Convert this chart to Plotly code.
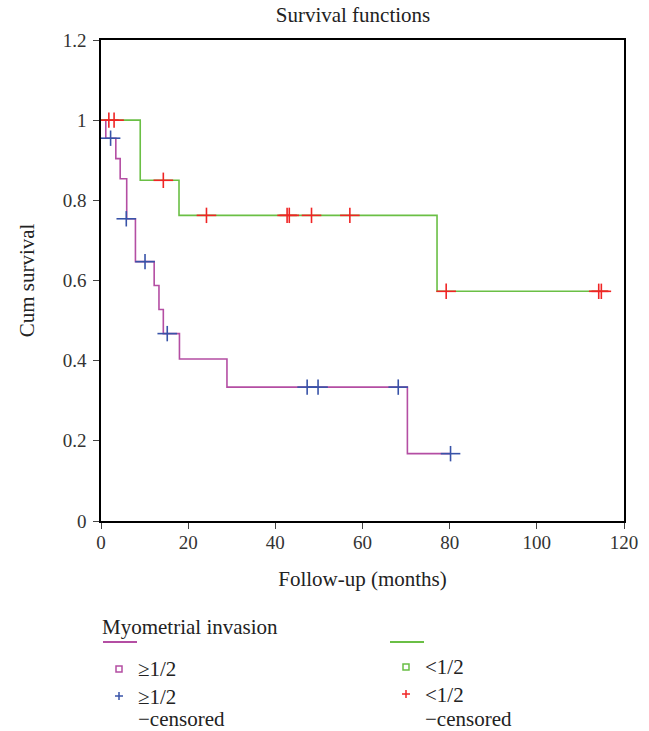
import plotly.graph_objects as go

# ---- data ----
ge_times = [0, 1.1, 3.4, 4.4, 5.9, 7.9, 12.2, 13.3, 14.3, 18.0, 28.9, 70.3, 80.2]
ge_surv = [1.0, 0.955, 0.904, 0.854, 0.754, 0.647, 0.5875, 0.5275, 0.4675, 0.404, 0.334, 0.168, 0.168]
ge_cens_t = [2.2, 5.8, 10.1, 15.2, 47.3, 49.8, 68.2, 80.2]
ge_cens_s = [0.955, 0.754, 0.647, 0.4675, 0.334, 0.334, 0.334, 0.168]

lt_times = [0, 9.0, 17.9, 77.1, 116.3]
lt_surv = [1.0, 0.85, 0.7625, 0.573, 0.573]
lt_cens_t = [1.8, 3.0, 14.3, 24.2, 42.7, 43.2, 48.3, 57.1, 79.2, 114.2, 114.8]
lt_cens_s = [1.0, 1.0, 0.85, 0.7625, 0.7625, 0.7625, 0.7625, 0.7625, 0.573, 0.573, 0.573]

x_ticks = [0, 20, 40, 60, 80, 100, 120]
y_ticks = [0, 0.2, 0.4, 0.6, 0.8, 1.0, 1.2]
y_tick_text = ["0", "0.2", "0.4", "0.6", "0.8", "1", "1.2"]

legend_title = "Myometrial invasion"
group_labels = ["≥1/2", "<1/2"]
censored_suffix = "−censored"

PURPLE = "#b44ea3"
GREEN = "#6abf45"
BLUE = "#3853a8"
RED = "#f02424"
FONT = "Liberation Serif"
TXT = "#222"

# plot area in pixels (for placing the legend block in the bottom margin)
L, R, T, B = 101, 624, 40, 521
W, H = R - L, B - T


def px(xp):
    return (xp - L) / W


def py(yp):
    return (B - yp) / H


fig = go.Figure()

fig.add_trace(go.Scatter(x=ge_times, y=ge_surv, mode="lines", name=group_labels[0],
                         line=dict(color=PURPLE, width=1.6, shape="hv"), showlegend=False, hoverinfo="skip"))
fig.add_trace(go.Scatter(x=lt_times, y=lt_surv, mode="lines", name=group_labels[1],
                         line=dict(color=GREEN, width=1.6, shape="hv"), showlegend=False, hoverinfo="skip"))

# censor marks: a wide horizontal bar plus a shorter vertical bar
for t, s, col, lab in [(ge_cens_t, ge_cens_s, BLUE, group_labels[0]), (lt_cens_t, lt_cens_s, RED, group_labels[1])]:
    fig.add_trace(go.Scatter(x=t, y=s, mode="markers", name=lab + censored_suffix,
                             marker=dict(symbol="line-ew", size=14, line=dict(color=col, width=1.6)),
                             showlegend=False, hoverinfo="skip"))
    fig.add_trace(go.Scatter(x=t, y=s, mode="markers", name=lab + censored_suffix,
                             marker=dict(symbol="line-ns", size=11, line=dict(color=col, width=1.6)),
                             showlegend=False, hoverinfo="skip"))

axis_common = dict(showline=True, linecolor="black", linewidth=1.5, mirror=True,
                   ticks="outside", ticklen=6, tickwidth=1.2, tickcolor="#444",
                   showgrid=False, zeroline=False,
                   tickfont=dict(family=FONT, size=19, color="#333"))

# ---- legend block (drawn as annotations + shapes in the bottom margin) ----
annotations = [dict(text=legend_title, xref="paper", yref="paper", x=px(100), y=py(627),
                    xanchor="left", yanchor="middle", showarrow=False,
                    font=dict(family=FONT, size=21, color=TXT))]
shapes = []
cols = [(103, PURPLE, BLUE, 669, 696), (390, GREEN, RED, 667, 694)]
for (x0, lcol, ccol, ysq, ycr), lab in zip(cols, group_labels):
    shapes.append(dict(type="line", xref="paper", yref="paper", x0=px(x0), x1=px(x0 + 34),
                       y0=py(642), y1=py(642), line=dict(color=lcol, width=2)))
    cx = x0 + 16
    shapes.append(dict(type="rect", xref="paper", yref="paper", x0=px(cx - 3), x1=px(cx + 3),
                       y0=py(ysq + 3), y1=py(ysq - 3), line=dict(color=lcol, width=1.5)))
    shapes.append(dict(type="line", xref="paper", yref="paper", x0=px(cx - 4), x1=px(cx + 4),
                       y0=py(ycr), y1=py(ycr), line=dict(color=ccol, width=1.5)))
    shapes.append(dict(type="line", xref="paper", yref="paper", x0=px(cx), x1=px(cx),
                       y0=py(ycr - 4), y1=py(ycr + 4), line=dict(color=ccol, width=1.5)))
    tx = x0 + 33
    annotations.append(dict(text=lab, xref="paper", yref="paper", x=px(tx), y=py(ysq),
                            xanchor="left", yanchor="middle", showarrow=False,
                            font=dict(family=FONT, size=21, color=TXT)))
    annotations.append(dict(text=lab, xref="paper", yref="paper", x=px(tx), y=py(ycr + 1),
                            xanchor="left", yanchor="middle", showarrow=False,
                            font=dict(family=FONT, size=21, color=TXT)))
    annotations.append(dict(text=censored_suffix, xref="paper", yref="paper", x=px(tx), y=py(719),
                            xanchor="left", yanchor="middle", showarrow=False,
                            font=dict(family=FONT, size=21, color=TXT)))

fig.update_layout(
    width=649, height=731,
    margin=dict(l=L, r=649 - R, t=T, b=731 - B),
    plot_bgcolor="white", paper_bgcolor="white",
    showlegend=False,
    title=dict(text="Survival functions", x=353 / 649, xanchor="center",
               y=1 - 15 / 731, yanchor="middle",
               font=dict(family=FONT, size=21, color=TXT)),
    xaxis=dict(range=[0, 120], tickvals=x_ticks, ticklabelstandoff=-3,
               title=dict(text="Follow-up (months)", font=dict(family=FONT, size=21, color=TXT), standoff=20),
               **axis_common),
    yaxis=dict(range=[0, 1.2], tickvals=y_ticks, ticktext=y_tick_text, ticklabelstandoff=3,
               title=dict(text="Cum survival", font=dict(family=FONT, size=21, color=TXT), standoff=22),
               **axis_common),
    annotations=annotations,
    shapes=shapes,
)

fig.write_html("out.html")
